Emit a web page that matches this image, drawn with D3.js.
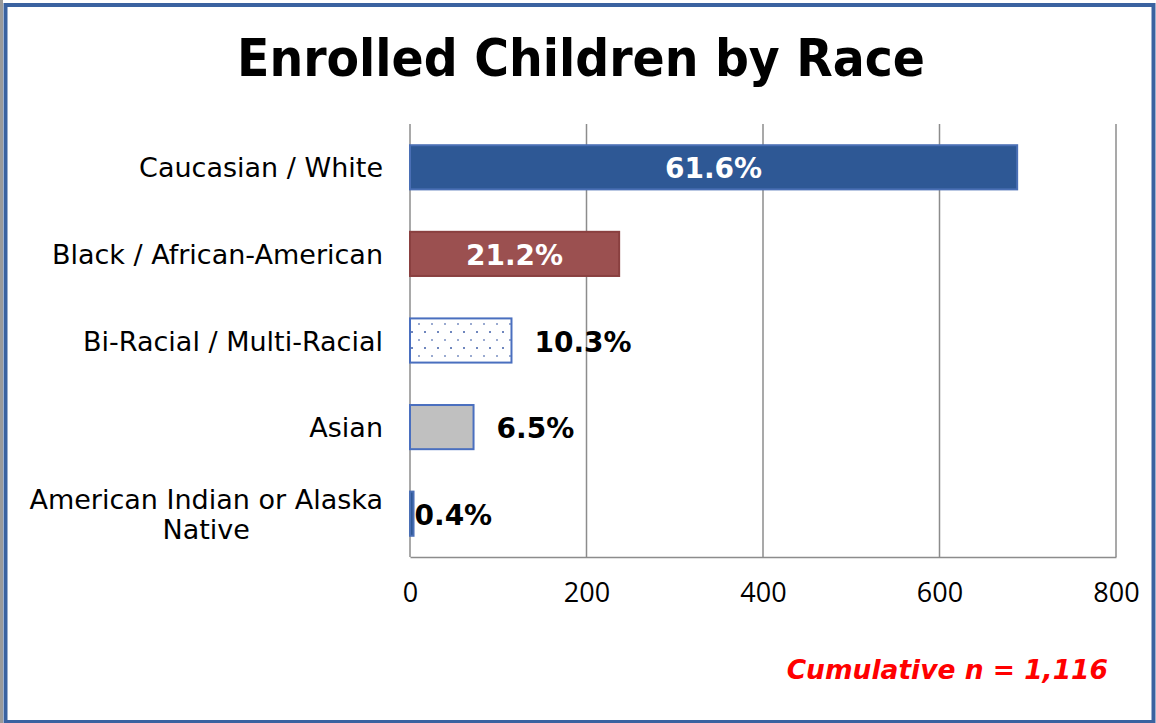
<!DOCTYPE html>
<html>
<head>
<meta charset="utf-8">
<script src="https://cdn.jsdelivr.net/npm/d3@7"></script>
<style>
  html, body { margin: 0; padding: 0; background: #fff; }
  svg { display: block; }
</style>
</head>
<body>
<svg id="chart" width="1156" height="723"></svg>
<script>
// Enrollment counts by race
const categories = [
  "Caucasian / White",
  "Black / African-American",
  "Bi-Racial / Multi-Racial",
  "Asian",
  "American Indian or Alaska Native"
];
const counts = [688, 237, 115, 72, 4];
const tickValues = [0, 200, 400, 600, 800];
const titleText = "Enrolled Children by Race";
const totalN = d3.sum(counts);
const noteText = "Cumulative n = " + d3.format(",")(totalN);

const fills = ["#2e5895", "#9b5050", "url(#dots)", "#c0c0c0", "#2e5895"];
const strokes = ["#4a6fb5", "#8a4040", "#4a6fbf", "#4a6fbf", "#4a6fb5"];
const labelInside = [true, true, false, false, false];

const svg = d3.select("#chart");
const W = 1156, H = 723;
const sans = "'DejaVu Sans', Verdana, sans-serif";

// dotted fill for the multi-racial bar
const defs = svg.append("defs");
const pat = defs.append("pattern")
  .attr("id", "dots").attr("patternUnits", "userSpaceOnUse")
  .attr("width", 13).attr("height", 16);
pat.append("rect").attr("width", 13).attr("height", 16).attr("fill", "#fff");
pat.append("rect").attr("x", 2).attr("y", 3).attr("width", 2).attr("height", 2).attr("fill", "#9aaad0");
pat.append("rect").attr("x", 8).attr("y", 11).attr("width", 2).attr("height", 2).attr("fill", "#6f86bd");

// outer frame
svg.append("rect").attr("x", 0).attr("y", 0).attr("width", 3).attr("height", H).attr("fill", "#9a9a9a");
svg.append("rect").attr("x", 5.5).attr("y", 5).attr("width", W - 8).attr("height", H - 6)
  .attr("fill", "none").attr("stroke", "#3a62a0").attr("stroke-width", 4);

// title
svg.append("text")
  .attr("x", 581).attr("y", 76)
  .attr("text-anchor", "middle")
  .attr("font-family", sans)
  .attr("font-weight", "bold")
  .attr("font-size", 52)
  .attr("textLength", 688)
  .attr("lengthAdjust", "spacingAndGlyphs")
  .attr("fill", "#000")
  .text(titleText);

const plot = { left: 410, right: 1116, top: 124, bottom: 557 };

const x = d3.scaleLinear().domain([0, 800]).range([plot.left, plot.right]);
const y = d3.scaleBand().domain(categories).range([plot.top, plot.bottom]).paddingInner(0.49).paddingOuter(0.245);

// vertical gridlines
svg.append("g").selectAll("line").data(tickValues.slice(1)).join("line")
  .attr("x1", d => x(d)).attr("x2", d => x(d))
  .attr("y1", plot.top).attr("y2", plot.bottom)
  .attr("stroke", "#8c8c8c").attr("stroke-width", 1.5);

// x axis
const xAxis = svg.append("g")
  .attr("transform", `translate(0,${plot.bottom})`)
  .call(d3.axisBottom(x).tickValues(tickValues).tickSize(0).tickPadding(26));
xAxis.select(".domain").attr("stroke", "#8c8c8c").attr("stroke-width", 1.5);
xAxis.selectAll("text")
  .attr("font-family", "'Open Sans', 'Liberation Sans', sans-serif")
  .attr("font-size", 27)
  .attr("fill", "#000");

// y axis line
svg.append("line")
  .attr("x1", plot.left).attr("x2", plot.left)
  .attr("y1", plot.top).attr("y2", plot.bottom)
  .attr("stroke", "#8c8c8c").attr("stroke-width", 1.5);

// category labels (long name wraps, second line centred under the first)
const catG = svg.append("g");
categories.forEach((c, i) => {
  const cy = y(c) + y.bandwidth() / 2;
  const base = { "font-family": sans, "font-size": 27, "fill": "#000" };
  if (c === "American Indian or Alaska Native") {
    const l1 = catG.append("text").attr("x", 383).attr("y", cy - 5)
      .attr("text-anchor", "end").text("American Indian or Alaska");
    Object.entries(base).forEach(([k, v]) => l1.attr(k, v));
    const w = l1.node().getComputedTextLength();
    const l2 = catG.append("text").attr("x", 383 - w / 2).attr("y", cy + 25)
      .attr("text-anchor", "middle").text("Native");
    Object.entries(base).forEach(([k, v]) => l2.attr(k, v));
  } else {
    const t = catG.append("text").attr("x", 383).attr("y", cy + 10)
      .attr("text-anchor", "end").text(c);
    Object.entries(base).forEach(([k, v]) => t.attr(k, v));
  }
});

// bars
svg.append("g").selectAll("rect").data(counts).join("rect")
  .attr("x", x(0))
  .attr("y", (d, i) => y(categories[i]))
  .attr("width", d => x(d) - x(0))
  .attr("height", y.bandwidth())
  .attr("fill", (d, i) => fills[i])
  .attr("stroke", (d, i) => strokes[i])
  .attr("stroke-width", 2);

// percent labels
const pct = d => (d / totalN * 100).toFixed(1) + "%";
svg.append("g").selectAll("text").data(counts).join("text")
  .attr("x", (d, i) => labelInside[i] ? (x(0) + x(d)) / 2 : x(d) + (d < 20 ? 1 : 23))
  .attr("y", (d, i) => y(categories[i]) + y.bandwidth() / 2 + 11)
  .attr("text-anchor", (d, i) => labelInside[i] ? "middle" : "start")
  .attr("font-family", sans)
  .attr("font-weight", "bold")
  .attr("font-size", 28)
  .attr("fill", (d, i) => labelInside[i] ? "#fff" : "#000")
  .text(d => pct(d));

// sample size note
svg.append("text")
  .attr("x", 1108).attr("y", 679)
  .attr("text-anchor", "end")
  .attr("font-family", sans)
  .attr("font-weight", "bold")
  .attr("font-style", "italic")
  .attr("font-size", 26.5)
  .attr("fill", "#ff0000")
  .text(noteText);
</script>
</body>
</html>
